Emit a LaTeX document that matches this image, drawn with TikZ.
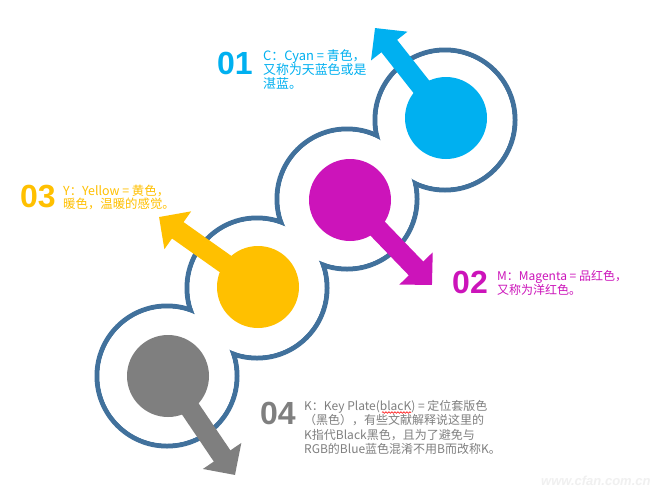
\documentclass[tikz,border=0pt]{standalone}
\usepackage{fontspec}
\setmainfont{Liberation Sans}
\newfontfamily\cjk{Noto Sans CJK SC}
\usetikzlibrary{arrows.meta,decorations.pathmorphing}
\definecolor{ccyan}{HTML}{00B0F0}
\definecolor{cmag}{HTML}{CC14BA}
\definecolor{cyel}{HTML}{FFC000}
\definecolor{cgray}{HTML}{7F7F7F}
\definecolor{ringc}{HTML}{41719C}
\newcommand{\grayfont}{\cjk\fontsize{12}{14.3}\selectfont}
\begin{document}
\begin{tikzpicture}[x=1pt,y=-1pt,
  ringnode/.style={circle, draw=ringc, line width=5pt, fill=white, minimum size=140pt, inner sep=0pt},
  dot/.style={circle, minimum size=82pt, inner sep=0pt},
  arr/.style={line width=20pt, -{Triangle[width=45pt,length=23pt]}},
  num/.style={font=\bfseries\fontsize{32}{32}\selectfont, inner sep=0pt, anchor=base west},
  desc/.style={align=left, inner sep=0pt, anchor=base west},
  wavy/.style={draw=red, line width=0.6pt, decorate, decoration={snake, amplitude=0.8pt, segment length=3pt}}]
\useasboundingbox[fill=white] (0,0) rectangle (660,498);
% rings
\node[ringnode] (r1) at (445,120) {};
\node[ringnode] (r2) at (347,199) {};
\node[ringnode] (r3) at (257,288) {};
\node[ringnode] (r4) at (167,376) {};
\foreach \r in {r1,r2,r3,r4} \fill[white] (\r.center) circle (67.5);
% dots
\node[dot, fill=ccyan] (c1) at (446,118) {};
\node[dot, fill=cmag] (c2) at (350,200) {};
\node[dot, fill=cyel] (c3) at (258,287) {};
\node[dot, fill=cgray] (c4) at (168,376) {};
% arrow tips
\coordinate (t1) at (375,28);
\coordinate (t2) at (432,285);
\coordinate (t3) at (159,217);
\coordinate (t4) at (235,475);
\draw[arr, ccyan] (c1.center) -- (t1);
\draw[arr, cmag] (c2.center) -- (t2);
\draw[arr, cyel] (c3.center) -- (t3);
\draw[arr, cgray] (c4.center) -- (t4);
% numbers
\node[num, text=ccyan] (n1) at (217,74) {01};
\node[num, text=cyel] (n3) at (20,207) {03};
\node[num, text=cmag] (n2) at (452,293) {02};
\node[num, text=cgray] (n4) at (260,424) {04};
% descriptions (base = baseline of last line)
\node[desc, text=ccyan, font=\cjk\fontsize{12.9}{14}\selectfont] (d1) at (263,88.5) {C：Cyan = 青色，\\又称为天蓝色或是\\湛蓝。};
\node[desc, text=cyel, font=\cjk\fontsize{12.4}{13.5}\selectfont] (d3) at (63,208.5) {Y：Yellow = 黄色，\\暖色，温暖的感觉。};
\node[desc, text=cmag, font=\cjk\fontsize{12}{14}\selectfont] (d2) at (497,294.5) {M：Magenta = 品红色，\\又称为洋红色。};
\node[desc, text=cgray, font=\grayfont] (d4) at (304,453.5) {K：Key Plate(blacK) = 定位套版色\\（黑色），有些文献解释说这里的\\K指代Black黑色，且为了避免与\\RGB的Blue蓝色混淆不用B而改称K。};
% spell-check wave under "blacK"
\coordinate (w1) at (382,412.5);
\coordinate (w2) at (411,412.5);
\draw[wavy] (w1) -- (w2);
% watermark
\node[text=black!6, font=\bfseries\itshape\fontsize{13}{13}\selectfont, inner sep=0pt, anchor=base west] (wm) at (541,485) {www.cfan.com.cn};
\end{tikzpicture}
\end{document}
